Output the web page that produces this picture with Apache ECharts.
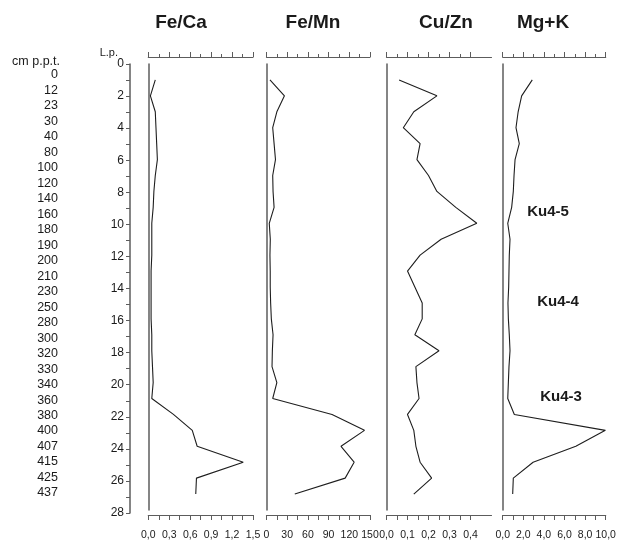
<!DOCTYPE html>
<html>
<head>
<meta charset="utf-8">
<script src="https://cdn.jsdelivr.net/npm/echarts@6/dist/echarts.min.js"></script>
<style>
html, body { margin: 0; padding: 0; background: #fff; }
#chart { width: 621px; height: 541px; }
</style>
</head>
<body>
<div id="chart"></div>
<script>
// Depth of each level (cm p.p.t.)
const depthLabels = ['0','12','23','30','40','80','100','120','140','160','180','190','200','210',
  '230','250','280','300','320','330','340','360','380','400','407','415','425','437'];

// Sample level numbers (L.p.)
const sampleLp = [1,2,3,4,5,6,7,8,9,10,11,12,13,14,15,16,17,18,19,20,21,22,23,24,25,26,27];

// Geochemical ratios per level
const feCa = [0.10,0.03,0.10,0.11,0.12,0.13,0.10,0.08,0.07,0.05,0.05,0.05,0.04,0.04,0.04,0.04,0.05,0.05,0.06,0.07,0.05,0.36,0.63,0.70,1.36,0.69,0.68];
const feMn = [5,26,15,9,11,13,9,9.5,11,4,5.5,5,5.4,5.4,6,7,9.5,8.5,8,15,9,95,142,108,127,114,41];
const cuZn = [0.06,0.24,0.13,0.08,0.16,0.145,0.20,0.24,0.33,0.43,0.26,0.16,0.10,0.135,0.17,0.17,0.135,0.25,0.14,0.145,0.155,0.10,0.13,0.14,0.16,0.215,0.13];
const mgK  = [2.87,1.84,1.5,1.29,1.61,1.2,1.1,1.03,0.87,0.49,0.71,0.64,0.61,0.58,0.51,0.55,0.64,0.71,0.61,0.55,0.49,1.13,9.97,7.1,2.95,1.03,0.97];

const panelTitles = ['Fe/Ca', 'Fe/Mn', 'Cu/Zn', 'Mg+K'];

// Axis ranges, tick positions and labelled values per panel
const panelMax = [1.5, 150, 0.5, 10];
const feCaTicks = [0,0.15,0.3,0.45,0.6,0.75,0.9,1.05,1.2,1.35,1.5];
const feCaLabels = [0,0.3,0.6,0.9,1.2,1.5];
const feMnTicks = [0,15,30,45,60,75,90,105,120,135,150];
const feMnLabels = [0,30,60,90,120,150];
const cuZnTicks = [0,0.05,0.1,0.15,0.2,0.25,0.3,0.35,0.4];
const cuZnLabels = [0,0.1,0.2,0.3,0.4];
const mgKTicks = [0,1,2,3,4,5,6,7,8,9,10];
const mgKLabels = [0,2,4,6,8,10];

const lpTicks = [0,1,2,3,4,5,6,7,8,9,10,11,12,13,14,15,16,17,18,19,20,21,22,23,24,25,26,27,28];
const lpLabels = [0,2,4,6,8,10,12,14,16,18,20,22,24,26,28];

// Zone labels beside the Mg+K profile
const zoneLabels = ['Ku4-5', 'Ku4-4', 'Ku4-3'];

const seriesValues = [feCa, feMn, cuZn, mgK];
const panelTicks = [feCaTicks, feMnTicks, cuZnTicks, mgKTicks];
const panelLabels = [feCaLabels, feMnLabels, cuZnLabels, mgKLabels];
const labelDecimals = [1, 0, 1, 1];

// Layout
const FONT = '"Liberation Sans", Arial, sans-serif';
const TEXT = '#1a1a1a';
const AXIS = '#5c5c5c';
const plotTop = 64, plotHeight = 449;
const panelLeft = [148.3, 266.5, 386.5, 502.7];
const panelWidth = [104.7, 103.5, 105, 103];

const grids = [], xAxes = [], yAxes = [], series = [];

panelTitles.forEach((name, i) => {
  grids.push({ left: panelLeft[i], top: plotTop, width: panelWidth[i], height: plotHeight });
  const fmt = v => v.toFixed(labelDecimals[i]).replace('.', ',');
  // bottom scale with labels
  const bottomIndex = xAxes.length;
  xAxes.push({
    type: 'value', gridIndex: i, min: 0, max: panelMax[i], position: 'bottom', offset: 5,
    axisLine: { show: true, onZero: false, lineStyle: { color: AXIS, width: 1.2 } },
    axisTick: { show: true, length: 5, customValues: panelTicks[i], lineStyle: { color: AXIS, width: 1 } },
    axisLabel: { show: true, customValues: panelLabels[i], formatter: fmt, fontSize: 10.5,
      fontFamily: FONT, color: TEXT, margin: 15, hideOverlap: false },
    splitLine: { show: false }
  });
  // top scale: short ticks at every step ...
  xAxes.push({
    type: 'value', gridIndex: i, min: 0, max: panelMax[i], position: 'top', offset: 7,
    axisLine: { show: true, onZero: false, lineStyle: { color: AXIS, width: 1.2 } },
    axisTick: { show: true, length: 3, customValues: panelTicks[i], lineStyle: { color: AXIS, width: 1 } },
    axisLabel: { show: false },
    splitLine: { show: false }
  });
  // ... and longer ticks at the labelled values
  xAxes.push({
    type: 'value', gridIndex: i, min: 0, max: panelMax[i], position: 'top', offset: 7,
    axisLine: { show: false, onZero: false },
    axisTick: { show: true, length: 5, customValues: panelLabels[i], lineStyle: { color: AXIS, width: 1 } },
    axisLabel: { show: false },
    splitLine: { show: false }
  });
  yAxes.push({
    type: 'value', gridIndex: i, min: 0, max: 28, inverse: true,
    axisLine: { show: true, onZero: false, lineStyle: { color: AXIS, width: 1.5 } },
    axisTick: { show: false }, axisLabel: { show: false }, splitLine: { show: false }
  });
  series.push({
    type: 'line', xAxisIndex: bottomIndex, yAxisIndex: i,
    data: seriesValues[i].map((v, k) => [v, sampleLp[k]]),
    showSymbol: false, symbol: 'none', silent: true,
    lineStyle: { color: '#1e1e1e', width: 1.1 }
  });
});

// L.p. scale
const lpGrid = grids.length;
grids.push({ left: 130, top: plotTop, width: 1, height: plotHeight });
xAxes.push({ type: 'value', gridIndex: lpGrid, show: false });
yAxes.push({
  type: 'value', gridIndex: lpGrid, min: 0, max: 28, inverse: true, position: 'left',
  axisLine: { show: true, onZero: false, lineStyle: { color: AXIS, width: 1.5 } },
  axisTick: { show: true, length: 4, customValues: lpTicks, lineStyle: { color: AXIS, width: 1 } },
  axisLabel: { show: true, customValues: lpLabels, fontSize: 12, fontFamily: FONT, color: TEXT, margin: 6 },
  splitLine: { show: false }
});

// depth column
const depthGrid = grids.length;
grids.push({ left: 62, top: 67.3, width: 1, height: 433.4 });
xAxes.push({ type: 'value', gridIndex: depthGrid, show: false });
yAxes.push({
  type: 'category', gridIndex: depthGrid, data: depthLabels, inverse: true, position: 'left',
  axisLine: { show: false }, axisTick: { show: false },
  axisLabel: { show: true, interval: 0, fontSize: 12.5, fontFamily: FONT, color: TEXT, margin: 4 },
  splitLine: { show: false }
});

const titleX = [181, 313, 446, 543];
const zoneX = [548, 558, 561];
const zoneY = [212, 302, 397];

const graphics = [];
panelTitles.forEach((t, i) => {
  graphics.push({ type: 'text', x: titleX[i], y: 23,
    style: { text: t, font: 'bold 19px ' + FONT, fill: TEXT, textAlign: 'center', textVerticalAlign: 'middle' } });
});
zoneLabels.forEach((t, i) => {
  graphics.push({ type: 'text', x: zoneX[i], y: zoneY[i],
    style: { text: t, font: 'bold 15px ' + FONT, fill: TEXT, textAlign: 'center', textVerticalAlign: 'middle' } });
});
graphics.push({ type: 'text', x: 60, y: 62,
  style: { text: 'cm p.p.t.', font: '12.5px ' + FONT, fill: TEXT, textAlign: 'right', textVerticalAlign: 'middle' } });
graphics.push({ type: 'text', x: 118, y: 53,
  style: { text: 'L.p.', font: '11px ' + FONT, fill: TEXT, textAlign: 'right', textVerticalAlign: 'middle' } });

const chart = echarts.init(document.getElementById('chart'), null, { renderer: 'canvas' });
chart.setOption({
  animation: false,
  backgroundColor: '#ffffff',
  grid: grids,
  xAxis: xAxes,
  yAxis: yAxes,
  series: series,
  graphic: graphics
});
</script>
</body>
</html>
